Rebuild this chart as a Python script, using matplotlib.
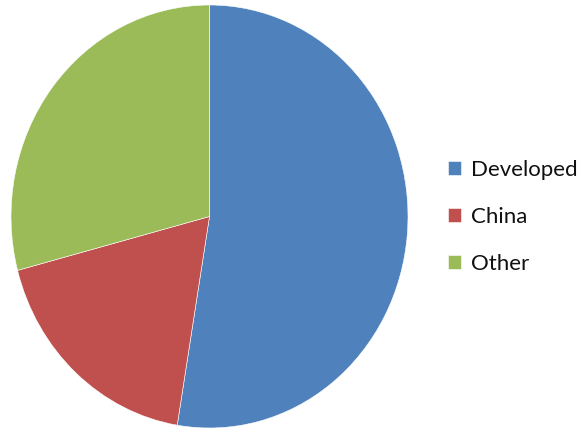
import matplotlib.pyplot as plt

# ---- data ----
labels = ["Developed", "China", "Other"]
shares = [52.6, 18.3, 29.1]
colors = ["#4F81BD", "#C0504D", "#9BBB59"]

plt.rcParams["font.family"] = ["Lato", "DejaVu Sans"]

fig = plt.figure(figsize=(5.83, 4.33), dpi=100)
ax = fig.add_axes([11 / 583, 5 / 433, 397 / 583, 423 / 433])

wedges, _ = ax.pie(shares, colors=colors, startangle=90, counterclock=False,
                   wedgeprops=dict(edgecolor="white", linewidth=0.4))
ax.set_aspect("auto")
ax.set_xlim(-1, 1)
ax.set_ylim(-1, 1)
ax.axis("off")

fig.legend(wedges, labels, loc="center left", bbox_to_anchor=(0.768, 0.499),
           frameon=False, fontsize=16, handlelength=0.6, handleheight=0.6,
           handletextpad=0.45, labelspacing=1.2, borderpad=0, borderaxespad=0,
           labelcolor="#111111")

fig.savefig("out.png", dpi=100)
